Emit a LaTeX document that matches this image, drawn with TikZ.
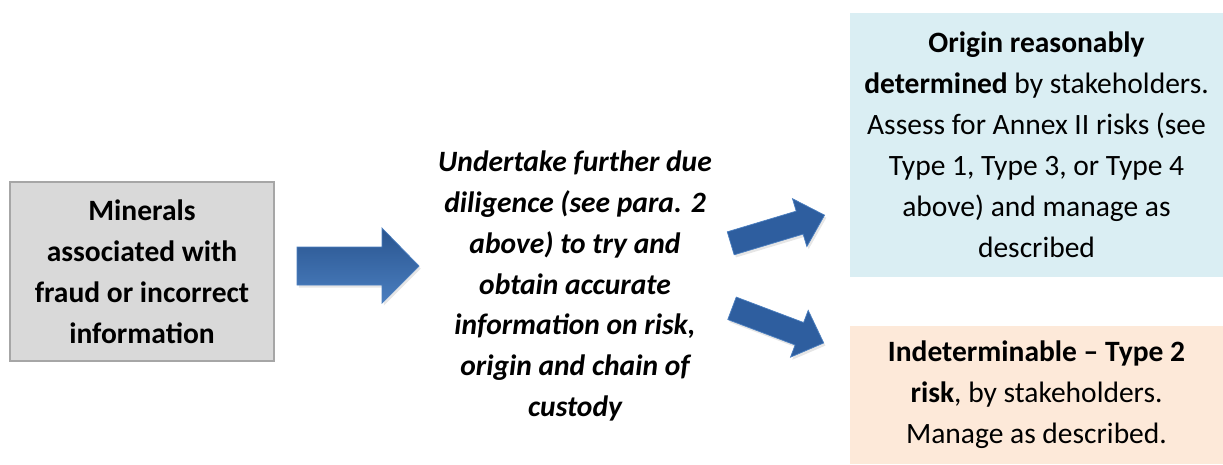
\documentclass[tikz,border=0pt]{standalone}
\usepackage{fontspec}
\setmainfont{Carlito}
\usetikzlibrary{shadows}

\definecolor{boxgrau}{HTML}{D9D9D9}
\definecolor{randgrau}{HTML}{A6A6A6}
\definecolor{boxblau}{HTML}{DAEEF3}
\definecolor{boxorange}{HTML}{FDE9D9}
\definecolor{pfeilblau}{HTML}{2E5E9F}
\definecolor{pfeilrand}{HTML}{4A7EBF}

\begin{document}
\begin{tikzpicture}[x=0.02cm,y=-0.02cm,
  schrift/.style={font=\fontsize{16.8}{23.3}\selectfont,align=center},
  schatten/.style={drop shadow={opacity=0.2,shadow xshift=1pt,shadow yshift=-1.5pt}}]

\useasboundingbox (0,0) rectangle (1223,464);

%Kaesten
\node[schrift,draw=randgrau,line width=1pt,fill=boxgrau,minimum width=5.28cm,minimum height=3.58cm] (minerals) at (142,271.5) {\bfseries Minerals\\ \bfseries associated with\\ \bfseries fraud or incorrect\\ \bfseries information};
\node[schrift] (diligence) at (575,286) {\bfseries\itshape Undertake further due\\ \bfseries\itshape diligence (see para. 2\\ \bfseries\itshape above) to try and\\ \bfseries\itshape obtain accurate\\ \bfseries\itshape information on risk,\\ \bfseries\itshape origin and chain of\\ \bfseries\itshape custody};
\node[schrift,fill=boxblau,minimum width=7.46cm,minimum height=5.28cm] (origin) at (1036.5,145) {\textbf{Origin reasonably}\\ \textbf{determined} by stakeholders.\\ Assess for Annex II risks (see\\ Type 1, Type 3, or Type 4\\ above) and manage as\\ described};
\node[schrift,fill=boxorange,minimum width=7.46cm,minimum height=2.76cm] (indet) at (1036.5,395) {\textbf{Indeterminable -- Type 2}\\ \textbf{risk}, by stakeholders.\\ Manage as described.};

%Pfeile
\draw[schatten,top color=pfeilblau!90!black,bottom color=pfeilrand,draw=pfeilrand] (297,247) -- (382,247) -- (382,228) -- (419,266) -- (382,303) -- (382,285) -- (297,285) -- cycle;
\draw[schatten,shift={(730.7,243.3)},rotate=16.7,fill=pfeilblau,draw=pfeilrand] (0,-12) -- (72,-12) -- (72,-25) -- (98,0) -- (72,25) -- (72,12) -- (0,12) -- cycle;
\draw[schatten,shift={(732,308.3)},rotate=-20.7,fill=pfeilblau,draw=pfeilrand] (0,-12) -- (72,-12) -- (72,-25) -- (98,0) -- (72,25) -- (72,12) -- (0,12) -- cycle;
\end{tikzpicture}
\end{document}
